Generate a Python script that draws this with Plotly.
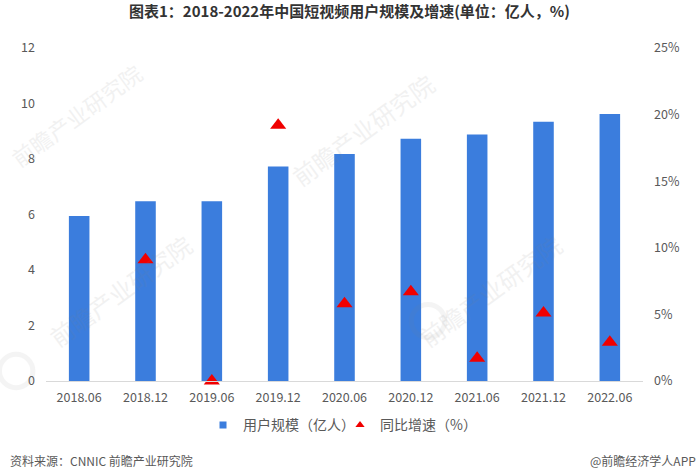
import plotly.graph_objects as go

months = ['2018.06', '2018.12', '2019.06', '2019.12', '2020.06', '2020.12', '2021.06', '2021.12', '2022.06']
users = [5.95, 6.48, 6.48, 7.73, 8.18, 8.73, 8.88, 9.34, 9.62]
growth = [None, 9.1, 0, 19.2, 5.8, 6.7, 1.7, 5.1, 2.9]

left_ticks = [0, 2, 4, 6, 8, 10, 12]
right_ticks = [0, 5, 10, 15, 20, 25]

BLUE = '#3B7DDD'
RED = '#F00000'
TEXT = '#595959'
FONT = 'Noto Sans CJK SC'

# faint watermarks: (x, y, size)
WATERMARKS = [(0.05, 0.80, 22), (0.531, 0.754, 24), (0.744, 0.273, 24), (0.124, 0.273, 24)]
LOGOS = [(-0.05, 0.03), (0.64, 0.18)]

fig = go.Figure()

fig.add_trace(go.Bar(
    x=months,
    y=users,
    name='用户规模（亿人）',
    marker=dict(color=BLUE, line=dict(width=0)),
    width=0.31,
    showlegend=False,
))

fig.add_trace(go.Scatter(
    x=months,
    y=growth,
    name='同比增速（%）',
    mode='markers',
    yaxis='y2',
    cliponaxis=False,
    marker=dict(symbol='triangle-up', size=14, color=RED),
    showlegend=False,
))

# legend proxies, the real markers are too big for the legend
fig.add_trace(go.Scatter(
    x=[None], y=[None], name='用户规模（亿人）', mode='markers',
    marker=dict(symbol='square', size=7, color=BLUE),
))
fig.add_trace(go.Scatter(
    x=[None], y=[None], name='同比增速（%）', mode='markers',
    marker=dict(symbol='triangle-up', size=8, color=RED),
))

for wx, wy, size in WATERMARKS:
    fig.add_annotation(
        xref='paper', yref='paper', x=wx, y=wy, xanchor='center', yanchor='middle',
        text='前瞻产业研究院', showarrow=False, textangle=-36, opacity=0.10,
        font=dict(family=FONT, size=size, color='#7F7F7F'),
    )

for lx, ly in LOGOS:
    fig.add_shape(
        type='circle', xref='paper', yref='paper',
        x0=lx - 0.028, x1=lx + 0.028, y0=ly - 0.05, y1=ly + 0.05,
        line=dict(color='#7F7F7F', width=5), opacity=0.08,
    )

# title and footer
fig.add_annotation(
    xref='paper', yref='paper', x=0.509, y=1.114, xanchor='center', yanchor='middle',
    text='<b>图表1：2018-2022年中国短视频用户规模及增速(单位：亿人，%)</b>',
    showarrow=False, font=dict(family=FONT, size=15, color='#333333'),
)
fig.add_annotation(
    xref='paper', yref='paper', x=-0.064, y=-0.24, xanchor='left', yanchor='middle',
    text='资料来源：CNNIC 前瞻产业研究院',
    showarrow=False, font=dict(family=FONT, size=12, color=TEXT),
)
fig.add_annotation(
    xref='paper', yref='paper', x=1.092, y=-0.24, xanchor='right', yanchor='middle',
    text='@前瞻经济学人APP',
    showarrow=False, font=dict(family=FONT, size=12, color=TEXT),
)

fig.update_layout(
    width=700,
    height=470,
    autosize=False,
    margin=dict(l=46, r=57, t=48, b=89),
    paper_bgcolor='white',
    plot_bgcolor='white',
    font=dict(family=FONT, size=12, color=TEXT),
    showlegend=True,
    legend=dict(
        orientation='h', x=0.263, xanchor='left', y=-0.085, yanchor='top',
        font=dict(size=14, color=TEXT), itemsizing='trace', itemwidth=30,
        entrywidth=92, entrywidthmode='pixels',
    ),
    xaxis=dict(
        type='category', categoryorder='array', categoryarray=months, automargin=False,
        range=[-0.5, 8.5], showgrid=False, ticks='', showline=True, ticklabelstandoff=5,
        linecolor='#D9D9D9', linewidth=1, tickfont=dict(size=12.5),
    ),
    yaxis=dict(
        range=[0, 12], tickvals=left_ticks, showgrid=False, zeroline=False, automargin=False,
        showline=False, ticks='', ticklabelstandoff=10, tickfont=dict(size=12.5),
    ),
    yaxis2=dict(
        range=[0, 25], tickvals=right_ticks, ticktext=[f'{t}%' for t in right_ticks],
        overlaying='y', side='right', showgrid=False, zeroline=False, automargin=False,
        showline=False, ticks='', ticklabelstandoff=10, tickfont=dict(size=12.5),
    ),
)

# the page's default body margin would push the figure 8px off
fig.write_html('out.html', post_script="document.body.style.margin='0';",
               config=dict(displayModeBar=False))
